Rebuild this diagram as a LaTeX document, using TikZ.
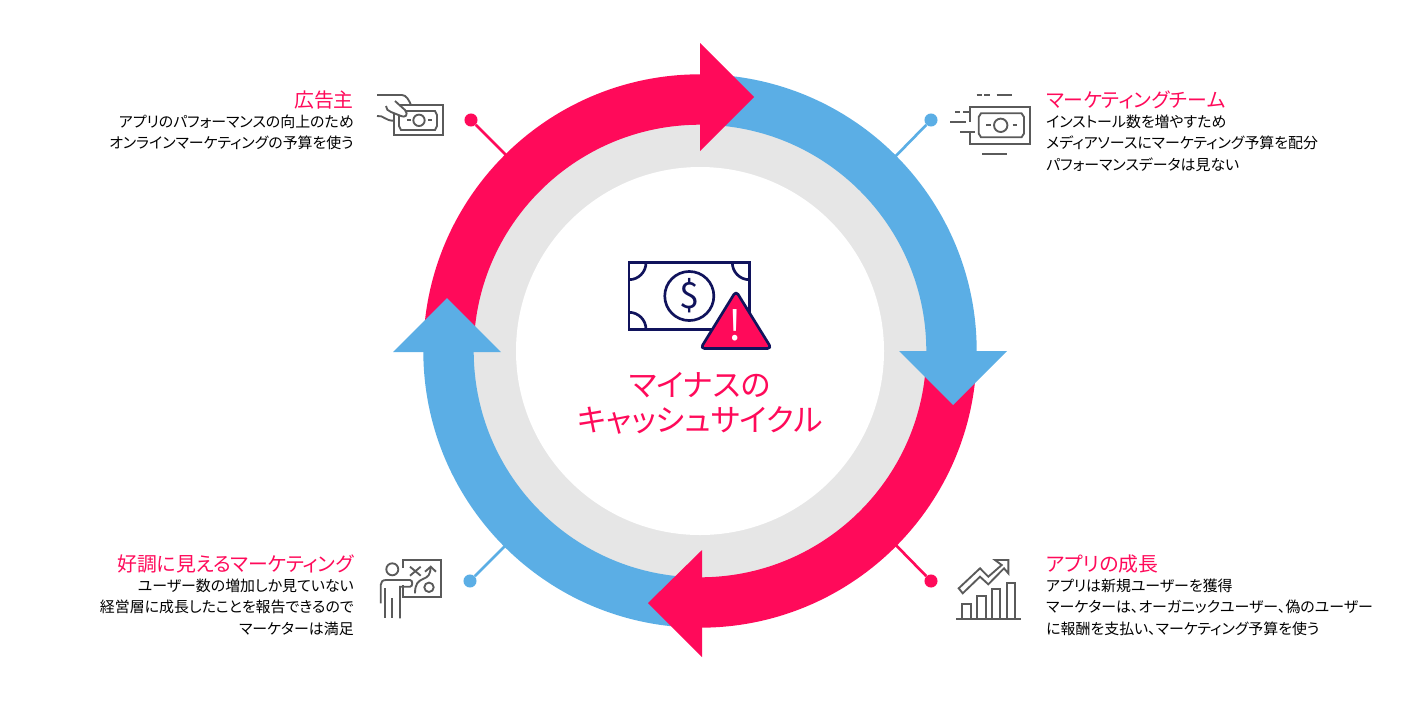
\documentclass[tikz,border=0pt]{standalone}
\usepackage{fontspec}
\setmainfont[RawFeature={+palt}]{Noto Sans CJK JP}
\usetikzlibrary{calc}

\definecolor{cyclered}{HTML}{FF0A5A}
\definecolor{cycleblue}{HTML}{5BAEE5}
\definecolor{ringgray}{HTML}{E6E6E6}
\definecolor{icongray}{HTML}{5A5A5A}
\definecolor{billnavy}{HTML}{10135C}

\tikzset{
  redband/.style={draw=cyclered,line width=37.8pt},
  blueband/.style={draw=cycleblue,line width=37.8pt},
  leaddot/.style={circle,inner sep=0pt,minimum size=9.8pt},
  titletext/.style={text=cyclered,font=\fontsize{14.9pt}{17pt}\selectfont,inner sep=0pt},
  bodytext/.style={font=\fontsize{11.2pt}{16.1pt}\selectfont,inner sep=0pt},
  centertext/.style={text=cyclered,font=\fontsize{23.2pt}{26pt}\selectfont,inner sep=0pt},
  iconline/.style={draw=icongray,line width=1.4pt},
  billline/.style={draw=billnavy,line width=2pt}
}

\begin{document}
\begin{tikzpicture}[x=0.75pt,y=-0.75pt]
\useasboundingbox (0,0) rectangle (1401,701);

% Centre of the cycle
\coordinate (C) at (700,351);

% Grey ring
\fill[ringgray] (C) circle (227);
\fill[white] (C) circle (184);

% Leader lines, behind the arrows
\node[leaddot,fill=cyclered] (dotAd) at (471,120) {};
\node[leaddot,fill=cycleblue] (dotTeam) at (931,120) {};
\node[leaddot,fill=cyclered] (dotGrow) at (931,581) {};
\node[leaddot,fill=cycleblue] (dotGood) at (470,581) {};
\coordinate (endAd) at (515,164);
\coordinate (endTeam) at (888,164);
\coordinate (endGrow) at (888,537);
\coordinate (endGood) at (513,538);
\draw[cyclered,line width=2pt] (dotAd) -- (endAd);
\draw[cycleblue,line width=2pt] (dotTeam) -- (endTeam);
\draw[cyclered,line width=2pt] (dotGrow) -- (endGrow);
\draw[cycleblue,line width=2pt] (dotGood) -- (endGood);

% Arrow bands, each end hidden under a head
\draw[redband] ($(C)+(182:251.5)$) arc (182:270.5:251.5);
\draw[blueband] ($(C)+(272:251.5)$) arc (272:360.5:251.5);
\draw[redband] ($(C)+(2:251.5)$) arc (2:90.5:251.5);
\draw[blueband] ($(C)+(92:251.5)$) arc (92:180.5:251.5);

% Arrow heads
\fill[cyclered] (700,43) -- (754,97) -- (700,151) -- cycle;
\fill[cycleblue] (899,351) -- (1007,351) -- (953,405) -- cycle;
\fill[cyclered] (702,550) -- (702,657) -- (648,603) -- cycle;
\fill[cycleblue] (393,352) -- (501,352) -- (447,298) -- cycle;

% Bill with warning sign
\draw[billline] (629,262.7) rectangle (749.3,329.3);
\draw[billline] (629,279.7) arc (90:0:17);
\draw[billline] (732.3,262.7) arc (180:90:17);
\draw[billline] (629,312.3) arc (-90:0:17);
\node[billline,circle,inner sep=0pt,minimum size=36.8pt] (coin) at (689.3,296) {};
\node[text=billnavy,font=\fontsize{27pt}{27pt}\selectfont,inner sep=0pt] (dollar) at (coin) {\$};
\draw[billline,fill=cyclered,rounded corners=3pt,line join=round] (736,291) -- (771.5,348.5) -- (700.5,348.5) -- cycle;
\node[text=white,font=\fontsize{31pt}{31pt}\selectfont,inner sep=0pt] (warn) at (735.5,325) {!};

% Centre title
\node[centertext] (cycleA) at (700,385) {マイナスの};
\node[centertext] (cycleB) at (700,420) {キャッシュサイクル};

% Advertiser
\node[titletext,anchor=east] (titleAd) at (354,100) {広告主};
\node[bodytext,anchor=north east,align=right] (bodyAd) at (354,114.5) {アプリのパフォーマンスの向上のため\\オンラインマーケティングの予算を使う};

% Marketing team
\node[titletext,anchor=west] (titleTeam) at (1046,100) {マーケティングチーム};
\node[bodytext,anchor=north west,align=left] (bodyTeam) at (1046,114.5) {インストール数を増やすため\\メディアソースにマーケティング予算を配分\\パフォーマンスデータは見ない};

% App growth
\node[titletext,anchor=west] (titleGrow) at (1046,564) {アプリの成長};
\node[bodytext,anchor=north west,align=left] (bodyGrow) at (1046,578.5) {アプリは新規ユーザーを獲得\\マーケターは、オーガニックユーザー、偽のユーザー\\に報酬を支払い、マーケティング予算を使う};

% Good looking marketing
\node[titletext,anchor=east] (titleGood) at (354,564) {好調に見えるマーケティング};
\node[bodytext,anchor=north east,align=right] (bodyGood) at (354,578.5) {ユーザー数の増加しか見ていない\\経営層に成長したことを報告できるので\\マーケターは満足};

% Icon: hand with bill
\draw[iconline] (394,105) rectangle (443,135);
\draw[iconline] (401,111) -- (435,111) -- (437,115) -- (437,126) -- (435,130) -- (401,130) -- (399,126) -- (399,115) -- cycle;
\draw[iconline] (419,120.3) circle (5.7);
\draw[iconline] (407,120.3) -- (411,120.3) (428,120.3) -- (432,120.3);
\draw[iconline] (377,95) -- (402,95) .. controls (406,95) and (409,100) .. (411,105);
\draw[iconline,fill=white] (395,101) -- (405,110) .. controls (409,115) and (405,118) .. (401,116) -- (391,112) .. controls (388,111) and (386,109) .. (386,106);
\draw[iconline] (377,116) .. controls (384,115) and (385,121) .. (394,120.7);

% Icon: bill with speed lines
\draw[iconline] (970,106.7) rectangle (1030,144);
\fill[white] (958,122.3) rectangle (971,132);
\draw[iconline] (981,113.3) -- (1021.5,113.3) -- (1024,117) -- (1024,133.5) -- (1021.5,137.3) -- (981,137.3) -- (978.7,133.5) -- (978.7,117) -- cycle;
\draw[iconline] (1000.7,125.3) circle (6.7);
\draw[iconline] (986,125.3) -- (990.7,125.3) (1012.5,125.3) -- (1017,125.3);
\draw[iconline] (976.7,94.7) -- (981.7,94.7) (984,94.7) -- (990,94.7) (996.7,94.7) -- (1011.7,94.7);
\draw[iconline] (955,111.7) -- (960,111.7) (963.3,111.7) -- (969.3,111.7);
\draw[iconline] (950,122.3) -- (966,122.3);
\draw[iconline] (960,132) -- (975,132);
\draw[iconline] (982,154) -- (1006.7,154);

% Icon: growth chart
\draw[iconline] (956,618.7) -- (1021.3,618.7);
\draw[iconline] (962.3,618.7) |- (971,604) -- (971,618.7);
\draw[iconline] (977.3,618.7) |- (985.7,596) -- (985.7,618.7);
\draw[iconline] (992,618.7) |- (1000.3,589.3) -- (1000.3,618.7);
\draw[iconline] (1006.7,618.7) |- (1015,582.7) -- (1015,618.7);
\draw[iconline] (958.7,588.3) -- (980,568.3) -- (988.3,576.7) -- (1001.7,565) -- (995,560) -- (1008.3,560) -- (1008.3,573.3) -- (1004,568.3) -- (988.3,584.3) -- (980,576.7) -- (962.7,593.3) -- cycle;

% Icon: presenter with board
\draw[iconline] (403.3,568) |- (440.7,560) |- (403.3,597.3) -- (403.3,585);
\draw[iconline] (392.3,569.3) circle (6);
\draw[iconline] (400,618.3) -- (400,586.7) -- (410,586.7) .. controls (413,586.7) and (413,580) .. (410,580) -- (386,580) .. controls (382.5,580) and (380.7,582) .. (380.7,585) -- (380.7,603.3);
\draw[iconline] (385,588.3) -- (385,618.3);
\draw[iconline] (392.3,598.3) -- (392.3,618.3);
\draw[iconline] (410,566.7) -- (420.7,575.7) (420.7,566.7) -- (410,575.7);
\draw[iconline] (415,593.3) .. controls (415,584) and (418,581) .. (423,579) .. controls (428,577) and (430.5,575) .. (430.5,567);
\draw[iconline] (425,571.7) -- (430.7,566.7) -- (436,571.7);
\draw[iconline] (429,587.3) circle (4.7);

\end{tikzpicture}
\end{document}
